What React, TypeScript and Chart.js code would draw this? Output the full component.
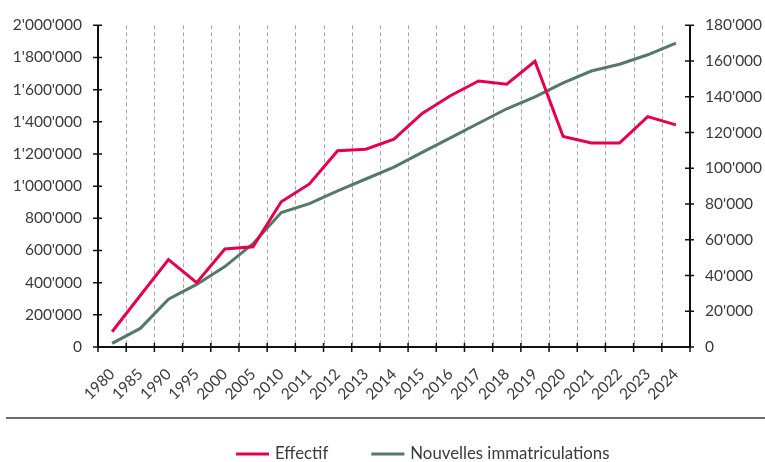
import React, { useEffect, useRef } from "react";
import { Chart, registerables } from "chart.js";

Chart.register(...registerables);

const categories = [
  "1980", "1985", "1990", "1995", "2000", "2005", "2010", "2011", "2012", "2013",
  "2014", "2015", "2016", "2017", "2018", "2019", "2020", "2021", "2022", "2023", "2024",
];

const effectif = [
  95000, 320000, 543000, 400000, 609000, 623000, 903000, 1014000, 1220000, 1230000,
  1292000, 1452000, 1562000, 1654000, 1634000, 1776000, 1309000, 1268000, 1268000, 1432000, 1381000,
];

const nouvelles = [
  2000, 10400, 26700, 35000, 45000, 57800, 75200, 80200, 87400, 94000,
  100700, 108900, 117000, 125200, 133300, 140000, 147800, 154400, 158200, 163500, 170000,
];

const leftMax = 2000000;
const leftStep = 200000;
const rightMax = 180000;
const rightStep = 20000;

const seriesNames = ["Effectif", "Nouvelles immatriculations"];
const seriesColors = ["#e5004f", "#567866"];

const FONT = "Lato, 'Noto Sans', sans-serif";
const TEXT_COLOR = "#3a3a3a";

const fmt = (v: number) => Math.round(v).toLocaleString("en-US").replace(/,/g, "'");

const axesPlugin = {
  id: "customAxes",
  beforeDatasetsDraw(chart: any) {
    const { ctx, chartArea } = chart;
    const { left, right, top, bottom } = chartArea;
    const n = categories.length;
    const w = (right - left) / n;
    ctx.save();
    ctx.strokeStyle = "#a8a8a8";
    ctx.lineWidth = 1;
    ctx.setLineDash([4, 3]);
    for (let i = 1; i < n; i++) {
      const x = Math.round(left + i * w) + 0.5;
      ctx.beginPath();
      ctx.moveTo(x, top);
      ctx.lineTo(x, bottom);
      ctx.stroke();
    }
    ctx.restore();
  },
  afterDraw(chart: any) {
    const { ctx, chartArea, scales, width } = chart;
    const { left, right, top, bottom } = chartArea;
    const n = categories.length;
    const w = (right - left) / n;
    ctx.save();
    ctx.setLineDash([]);
    ctx.strokeStyle = "#111";
    ctx.lineWidth = 2;
    ctx.beginPath();
    ctx.moveTo(left, top);
    ctx.lineTo(left, bottom);
    ctx.moveTo(right, top);
    ctx.lineTo(right, bottom);
    ctx.moveTo(left, bottom);
    ctx.lineTo(right, bottom);
    ctx.stroke();
    ctx.lineWidth = 1.5;
    ctx.beginPath();
    for (let v = 0; v <= leftMax; v += leftStep) {
      const y = scales.y.getPixelForValue(v);
      ctx.moveTo(left - 5, y);
      ctx.lineTo(left + 4, y);
    }
    for (let v = 0; v <= rightMax; v += rightStep) {
      const y = scales.y1.getPixelForValue(v);
      ctx.moveTo(right - 5, y);
      ctx.lineTo(right + 4, y);
    }
    for (let i = 0; i <= n; i++) {
      const x = left + i * w;
      ctx.moveTo(x, bottom - 4);
      ctx.lineTo(x, bottom + 5);
    }
    ctx.stroke();

    ctx.strokeStyle = "#3c3c3c";
    ctx.lineWidth = 1.5;
    ctx.beginPath();
    ctx.moveTo(6, 418);
    ctx.lineTo(width, 418);
    ctx.stroke();

    ctx.font = `16.8px ${FONT}`;
    ctx.textBaseline = "alphabetic";
    ctx.textAlign = "left";
    let x = 236;
    const ly = 454;
    seriesNames.forEach((name, i) => {
      ctx.strokeStyle = seriesColors[i];
      ctx.lineWidth = 3;
      ctx.beginPath();
      ctx.moveTo(x, ly);
      ctx.lineTo(x + 33, ly);
      ctx.stroke();
      ctx.fillStyle = TEXT_COLOR;
      ctx.fillText(name, x + 39, ly + 5);
      x += 39 + ctx.measureText(name).width + 43;
    });
    ctx.restore();
  },
};

export default function App() {
  const ref = useRef<HTMLCanvasElement | null>(null);
  useEffect(() => {
    if (!ref.current) return;
    const chart = new Chart(ref.current, {
      type: "line",
      data: {
        labels: categories,
        datasets: [
          {
            label: seriesNames[0],
            data: effectif,
            borderColor: seriesColors[0],
            backgroundColor: seriesColors[0],
            borderWidth: 3,
            pointRadius: 0,
            tension: 0,
            yAxisID: "y",
          },
          {
            label: seriesNames[1],
            data: nouvelles,
            borderColor: seriesColors[1],
            backgroundColor: seriesColors[1],
            borderWidth: 3,
            pointRadius: 0,
            tension: 0,
            yAxisID: "y1",
          },
        ],
      },
      options: {
        animation: false,
        responsive: false,
        devicePixelRatio: 1,
        layout: { padding: { top: 23, bottom: 60, left: 0, right: 0 } },
        plugins: {
          legend: { display: false },
          tooltip: { enabled: false },
        },
        scales: {
          x: {
            type: "category",
            offset: true,
            grid: { display: false, drawTicks: false },
            border: { display: false },
            ticks: {
              autoSkip: false,
              maxRotation: 45,
              minRotation: 45,
              padding: 18,
              color: TEXT_COLOR,
              font: { family: FONT, size: 15.5 },
            },
            afterFit: (s: any) => {
              s.height = 55;
            },
          },
          y: {
            position: "left",
            min: 0,
            max: leftMax,
            grid: { display: false, drawTicks: false },
            border: { display: false },
            ticks: {
              stepSize: leftStep,
              padding: 16,
              color: TEXT_COLOR,
              font: { family: FONT, size: 15.5 },
              callback: (v: any) => fmt(Number(v)),
            },
            afterFit: (s: any) => {
              s.width = 98;
            },
          },
          y1: {
            position: "right",
            min: 0,
            max: rightMax,
            grid: { display: false, drawTicks: false },
            border: { display: false },
            ticks: {
              stepSize: rightStep,
              padding: 15,
              color: TEXT_COLOR,
              font: { family: FONT, size: 15.5 },
              callback: (v: any) => fmt(Number(v)),
            },
            afterFit: (s: any) => {
              s.width = 75;
            },
          },
        },
      },
      plugins: [axesPlugin],
    });
    return () => chart.destroy();
  }, []);
  return (
    <div style={{ position: "fixed", left: 0, top: 0, width: 765, height: 462, background: "#fff" }}>
      <canvas ref={ref} width={765} height={462} style={{ display: "block" }} />
    </div>
  );
}
